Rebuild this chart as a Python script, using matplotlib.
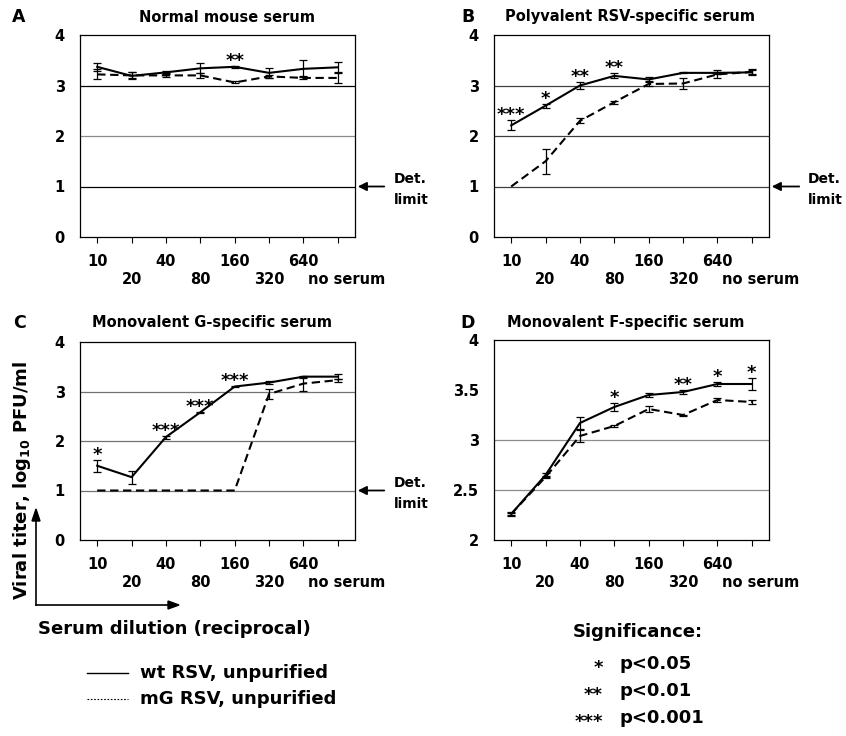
import numpy as np
import matplotlib
matplotlib.use('Agg')
import matplotlib.pyplot as plt
from matplotlib.lines import Line2D
from matplotlib.transforms import ScaledTranslation

plt.rcParams['font.family'] = ['DejaVu Sans']
plt.rcParams['font.weight'] = 'bold'
plt.rcParams['mathtext.default'] = 'bf'

x_labels = ['10', '20', '40', '80', '160', '320', '640', 'no serum']

# panel A - normal mouse serum
a_wt = [3.37, 3.19, 3.26, 3.34, 3.37, 3.25, 3.33, 3.36]
a_wt_err = [0.08, 0.07, 0.03, 0.1, 0.02, 0.1, 0.17, 0.1]
a_mg = [3.22, 3.2, 3.2, 3.2, 3.06, 3.18, 3.15, 3.15]
a_mg_err = [0.1, 0.06, 0.04, 0.05, 0.02, 0.03, 0.03, 0.1]
a_sig = ['', '', '', '', '**', '', '', '']

# panel B - polyvalent RSV-specific serum
b_wt = [2.21, 2.6, 3.0, 3.19, 3.12, 3.25, 3.25, 3.26]
b_wt_err = [0.1, 0.04, 0.06, 0.05, 0.04, 0.01, 0.02, 0.05]
b_mg = [1.0, 1.5, 2.3, 2.67, 3.03, 3.04, 3.22, 3.27]
b_mg_err = [0.0, 0.25, 0.05, 0.03, 0.04, 0.1, 0.08, 0.05]
b_sig = ['***', '*', '**', '**', '', '', '', '']

# panel C - monovalent G-specific serum
c_wt = [1.5, 1.27, 2.08, 2.58, 3.1, 3.18, 3.3, 3.3]
c_wt_err = [0.12, 0.13, 0.03, 0.01, 0.01, 0.03, 0.02, 0.05]
c_mg = [1.0, 1.0, 1.0, 1.0, 1.0, 2.95, 3.16, 3.23]
c_mg_err = [0.0, 0.0, 0.0, 0.0, 0.0, 0.1, 0.14, 0.03]
c_sig = ['*', '', '***', '***', '***', '', '', '']

# panel D - monovalent F-specific serum
d_wt = [2.26, 2.65, 3.17, 3.33, 3.45, 3.48, 3.56, 3.56]
d_wt_err = [0.02, 0.02, 0.06, 0.04, 0.02, 0.02, 0.02, 0.06]
d_mg = [2.26, 2.63, 3.04, 3.14, 3.31, 3.25, 3.4, 3.38]
d_mg_err = [0.01, 0.01, 0.06, 0.01, 0.03, 0.005, 0.02, 0.02]
d_sig = ['', '', '', '*', '', '**', '*', '*']

W, H = 846, 736


def fx(px):
    return px / W


def fy(py):
    return 1 - py / H


def draw_panel(ax, wt, wt_err, mg, mg_err, sig, yticks, ylabels, grid, grid_col):
    x = np.arange(len(x_labels))
    for g in grid:
        ax.axhline(g, color=grid_col, lw=0.9, zorder=1)
    # no error bar where the titer sits at the detection limit
    mg_e = np.where(np.array(mg_err) > 0, mg_err, np.nan)
    ax.errorbar(x, mg, yerr=mg_e, color='k', lw=1.5, dashes=(4, 2.2),
                elinewidth=0.9, capsize=3, capthick=0.9, zorder=3)
    ax.errorbar(x, wt, yerr=wt_err, color='k', lw=1.5,
                elinewidth=0.9, capsize=3, capthick=0.9, zorder=4)
    for i, s in enumerate(sig):
        if s:
            top = max(wt[i] + wt_err[i], mg[i] + mg_err[i])
            ax.annotate(s, (x[i], top), xytext=(0, 0), textcoords='offset points',
                        ha='center', va='baseline', fontsize=13)
    ax.set_xlim(-0.5, len(x_labels) - 0.5)
    ax.set_ylim(yticks[0], yticks[-1])
    # two staggered rows of tick labels
    ax.set_xticks(x[::2])
    ax.set_xticklabels(x_labels[::2], fontsize=10.5)
    ax.set_xticks(x[1::2], minor=True)
    ax.set_xticklabels(x_labels[1::2], minor=True, fontsize=10.5)
    ax.tick_params(axis='x', which='both', length=4, width=0.8)
    ax.tick_params(axis='x', which='major', pad=8)
    ax.tick_params(axis='x', which='minor', pad=21)
    last = ax.get_xticklabels(minor=True)[-1]
    last.set_transform(last.get_transform() + ScaledTranslation(0.09, 0, fig.dpi_scale_trans))
    ax.set_yticks(yticks)
    ax.set_yticklabels(ylabels, fontsize=10.5)
    ax.tick_params(axis='y', length=0, pad=11)
    for sp in ax.spines.values():
        sp.set_linewidth(0.9)


def det_limit(ax, tail, text_x):
    tr = ax.get_yaxis_transform()
    ax.annotate('', xy=(1.0, 1), xycoords=tr, xytext=(tail, 1), textcoords=tr,
                arrowprops=dict(arrowstyle='-|>', color='k', lw=1.3, mutation_scale=13),
                annotation_clip=False)
    ax.text(text_x, 0.94, 'Det.\nlimit', transform=tr, ha='left', va='center',
            fontsize=10, linespacing=1.7)


fig = plt.figure(figsize=(W / 100, H / 100), dpi=100)

axA = fig.add_axes([fx(80), fy(237), 275 / W, 202 / H])
axB = fig.add_axes([fx(494), fy(237), 275 / W, 202 / H])
axC = fig.add_axes([fx(80), fy(540), 275 / W, 198 / H])
axD = fig.add_axes([fx(494), fy(540), 275 / W, 200 / H])

int_ticks = [0, 1, 2, 3, 4]
int_labels = ['0', '1', '2', '3', '4']
draw_panel(axA, a_wt, a_wt_err, a_mg, a_mg_err, a_sig, int_ticks, int_labels, [1, 3], 'k')
axA.axhline(2, color='0.55', lw=0.9, zorder=1)
draw_panel(axB, b_wt, b_wt_err, b_mg, b_mg_err, b_sig, int_ticks, int_labels, [1, 2, 3], '0.25')
draw_panel(axC, c_wt, c_wt_err, c_mg, c_mg_err, c_sig, int_ticks, int_labels, [1, 2, 3], '0.45')
draw_panel(axD, d_wt, d_wt_err, d_mg, d_mg_err, d_sig, [2, 2.5, 3, 3.5, 4],
           ['2', '2.5', '3', '3.5', '4'], [2.5, 3], '0.55')

det_limit(axA, (387 - 80) / 275, (394 - 80) / 275)
det_limit(axB, (802 - 494) / 275, (808 - 494) / 275)
det_limit(axC, (387 - 80) / 275, (394 - 80) / 275)

# panel letters and titles
for letter, lx, tx, ty, title in [('A', 19, 227, 17, 'Normal mouse serum'),
                                  ('B', 468, 630, 17, 'Polyvalent RSV-specific serum'),
                                  ('C', 19, 212, 323, 'Monovalent G-specific serum'),
                                  ('D', 468, 626, 323, 'Monovalent F-specific serum')]:
    fig.text(fx(lx), fy(ty), letter, ha='center', va='center', fontsize=12.5)
    fig.text(fx(tx), fy(ty), title, ha='center', va='center', fontsize=10.5)

# axis explanation arrows
fig.text(fx(22), fy(480), r'Viral titer, log$_{10}$ PFU/ml', rotation=90,
         ha='center', va='center', fontsize=13)
fig.add_artist(Line2D([fx(36), fx(36)], [fy(605), fy(520)], color='k', lw=1.2))
fig.add_artist(Line2D([fx(36), fx(170)], [fy(605), fy(605)], color='k', lw=1.2))
fig.add_artist(plt.Polygon([[fx(32), fy(521)], [fx(40), fy(521)], [fx(36), fy(509)]],
                           closed=True, color='k', transform=fig.transFigure))
fig.add_artist(plt.Polygon([[fx(168), fy(601)], [fx(168), fy(609)], [fx(179), fy(605)]],
                           closed=True, color='k', transform=fig.transFigure))
fig.text(fx(38), fy(629), 'Serum dilution (reciprocal)', ha='left', va='center', fontsize=13)

# line legend
fig.add_artist(Line2D([fx(87), fx(128)], [fy(673), fy(673)], color='k', lw=1.0))
fig.add_artist(Line2D([fx(87), fx(128)], [fy(699), fy(699)], color='k', lw=0.8,
                      dashes=(1.5, 1.5)))
fig.text(fx(140), fy(673), 'wt RSV, unpurified', ha='left', va='center', fontsize=13)
fig.text(fx(140), fy(699), 'mG RSV, unpurified', ha='left', va='center', fontsize=13)

# significance legend
fig.text(fx(573), fy(632), 'Significance:', ha='left', va='center', fontsize=13)
for stars, label, yy in [('*', 'p<0.05', 664), ('**', 'p<0.01', 691), ('***', 'p<0.001', 718)]:
    fig.text(fx(603), fy(yy) - 0.006, stars, ha='right', va='center', fontsize=13)
    fig.text(fx(619), fy(yy), label, ha='left', va='center', fontsize=13)

fig.savefig('out.png', dpi=100)
